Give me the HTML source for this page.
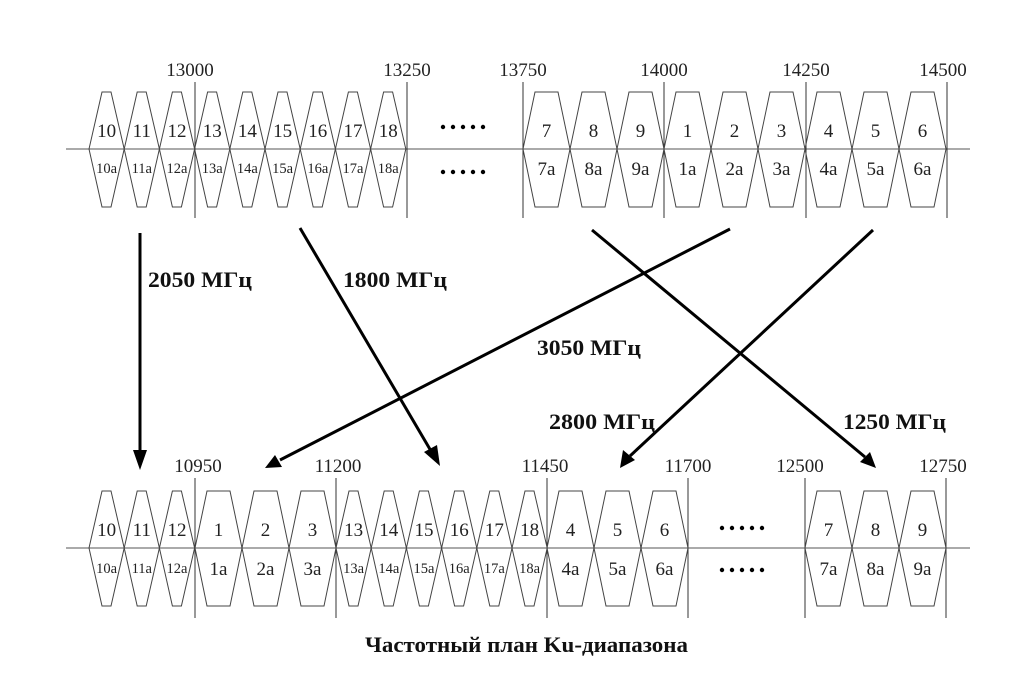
<!DOCTYPE html>
<html><head><meta charset="utf-8"><style>
html,body{margin:0;padding:0;background:#fff;}
svg{display:block;}
.n{font-family:"Liberation Serif",serif;font-size:19px;fill:#222;text-anchor:middle;}
.s{font-family:"Liberation Serif",serif;font-size:14.5px;fill:#222;text-anchor:middle;}
.f{font-family:"Liberation Serif",serif;font-size:19px;fill:#222;text-anchor:middle;}
.b{font-family:"Liberation Serif",serif;font-size:22px;font-weight:bold;fill:#111;}
</style></head><body>
<svg width="1024" height="684" viewBox="0 0 1024 684" xmlns="http://www.w3.org/2000/svg">
<defs>
<polygon id="nw" points="0,0 13,-57 22,-57 35.2,0 22,58 13,58" fill="none" stroke="#444" stroke-width="1"/>
<polygon id="wd" points="0,0 12,-57 35,-57 47,0 35,58 12,58" fill="none" stroke="#444" stroke-width="1"/>
</defs>
<g stroke="#777" stroke-width="1.3">
<line x1="66" y1="149" x2="970" y2="149"/>
<line x1="66" y1="548" x2="970" y2="548"/>
</g>
<g stroke="#333" stroke-width="1">
<line x1="195" y1="82" x2="195" y2="218"/><line x1="407" y1="82" x2="407" y2="218"/>
<line x1="523" y1="82" x2="523" y2="218"/><line x1="664" y1="82" x2="664" y2="218"/>
<line x1="806" y1="82" x2="806" y2="218"/><line x1="947" y1="82" x2="947" y2="218"/>
<line x1="195" y1="478" x2="195" y2="618"/><line x1="336" y1="478" x2="336" y2="618"/>
<line x1="547" y1="478" x2="547" y2="618"/><line x1="688" y1="478" x2="688" y2="618"/>
<line x1="805" y1="478" x2="805" y2="618"/><line x1="946" y1="478" x2="946" y2="618"/>
</g>
<text class="f" x="190" y="76">13000</text><text class="f" x="407" y="76">13250</text>
<text class="f" x="523" y="76">13750</text><text class="f" x="664" y="76">14000</text>
<text class="f" x="806" y="76">14250</text><text class="f" x="943" y="76">14500</text>
<g transform="translate(0,149)">
<use href="#nw" x="89"/><use href="#nw" x="124.2"/><use href="#nw" x="159.4"/><use href="#nw" x="194.6"/><use href="#nw" x="229.8"/><use href="#nw" x="265"/><use href="#nw" x="300.2"/><use href="#nw" x="335.4"/><use href="#nw" x="370.6"/>
<use href="#wd" x="523"/><use href="#wd" x="570"/><use href="#wd" x="617"/><use href="#wd" x="664"/><use href="#wd" x="711"/><use href="#wd" x="758"/><use href="#wd" x="805"/><use href="#wd" x="852"/><use href="#wd" x="899"/>
</g>
<g>
<text class="n" x="106.6" y="137">10</text><text class="n" x="141.8" y="137">11</text><text class="n" x="177" y="137">12</text><text class="n" x="212.2" y="137">13</text><text class="n" x="247.4" y="137">14</text><text class="n" x="282.6" y="137">15</text><text class="n" x="317.8" y="137">16</text><text class="n" x="353" y="137">17</text><text class="n" x="388.2" y="137">18</text>
<text class="s" x="106.6" y="173">10a</text><text class="s" x="141.8" y="173">11a</text><text class="s" x="177" y="173">12a</text><text class="s" x="212.2" y="173">13a</text><text class="s" x="247.4" y="173">14a</text><text class="s" x="282.6" y="173">15a</text><text class="s" x="317.8" y="173">16a</text><text class="s" x="353" y="173">17a</text><text class="s" x="388.2" y="173">18a</text>
<text class="n" x="546.5" y="137">7</text><text class="n" x="593.5" y="137">8</text><text class="n" x="640.5" y="137">9</text><text class="n" x="687.5" y="137">1</text><text class="n" x="734.5" y="137">2</text><text class="n" x="781.5" y="137">3</text><text class="n" x="828.5" y="137">4</text><text class="n" x="875.5" y="137">5</text><text class="n" x="922.5" y="137">6</text>
<text class="n" x="546.5" y="175">7a</text><text class="n" x="593.5" y="175">8a</text><text class="n" x="640.5" y="175">9a</text><text class="n" x="687.5" y="175">1a</text><text class="n" x="734.5" y="175">2a</text><text class="n" x="781.5" y="175">3a</text><text class="n" x="828.5" y="175">4a</text><text class="n" x="875.5" y="175">5a</text><text class="n" x="922.5" y="175">6a</text>
</g>
<g fill="#000">
<circle cx="443" cy="127" r="2.2"/><circle cx="453" cy="127" r="2.2"/><circle cx="463" cy="127" r="2.2"/><circle cx="473" cy="127" r="2.2"/><circle cx="483" cy="127" r="2.2"/>
<circle cx="443" cy="172" r="2.2"/><circle cx="453" cy="172" r="2.2"/><circle cx="463" cy="172" r="2.2"/><circle cx="473" cy="172" r="2.2"/><circle cx="483" cy="172" r="2.2"/>
<circle cx="722" cy="528" r="2.2"/><circle cx="732" cy="528" r="2.2"/><circle cx="742" cy="528" r="2.2"/><circle cx="752" cy="528" r="2.2"/><circle cx="762" cy="528" r="2.2"/>
<circle cx="722" cy="570" r="2.2"/><circle cx="732" cy="570" r="2.2"/><circle cx="742" cy="570" r="2.2"/><circle cx="752" cy="570" r="2.2"/><circle cx="762" cy="570" r="2.2"/>
</g>
<text class="f" x="198" y="472">10950</text><text class="f" x="338" y="472">11200</text>
<text class="f" x="545" y="472">11450</text><text class="f" x="688" y="472">11700</text>
<text class="f" x="800" y="472">12500</text><text class="f" x="943" y="472">12750</text>
<g transform="translate(0,548)">
<use href="#nw" x="89"/><use href="#nw" x="124.2"/><use href="#nw" x="159.4"/>
<use href="#wd" x="195"/><use href="#wd" x="242"/><use href="#wd" x="289"/>
<use href="#nw" x="336"/><use href="#nw" x="371.2"/><use href="#nw" x="406.4"/><use href="#nw" x="441.6"/><use href="#nw" x="476.8"/><use href="#nw" x="512"/>
<use href="#wd" x="547"/><use href="#wd" x="594"/><use href="#wd" x="641"/>
<use href="#wd" x="805"/><use href="#wd" x="852"/><use href="#wd" x="899"/>
</g>
<g>
<text class="n" x="106.6" y="536">10</text><text class="n" x="141.8" y="536">11</text><text class="n" x="177" y="536">12</text>
<text class="n" x="218.5" y="536">1</text><text class="n" x="265.5" y="536">2</text><text class="n" x="312.5" y="536">3</text>
<text class="n" x="353.6" y="536">13</text><text class="n" x="388.8" y="536">14</text><text class="n" x="424" y="536">15</text><text class="n" x="459.2" y="536">16</text><text class="n" x="494.4" y="536">17</text><text class="n" x="529.6" y="536">18</text>
<text class="n" x="570.5" y="536">4</text><text class="n" x="617.5" y="536">5</text><text class="n" x="664.5" y="536">6</text>
<text class="n" x="828.5" y="536">7</text><text class="n" x="875.5" y="536">8</text><text class="n" x="922.5" y="536">9</text>
<text class="s" x="106.6" y="573">10a</text><text class="s" x="141.8" y="573">11a</text><text class="s" x="177" y="573">12a</text>
<text class="n" x="218.5" y="575">1a</text><text class="n" x="265.5" y="575">2a</text><text class="n" x="312.5" y="575">3a</text>
<text class="s" x="353.6" y="573">13a</text><text class="s" x="388.8" y="573">14a</text><text class="s" x="424" y="573">15a</text><text class="s" x="459.2" y="573">16a</text><text class="s" x="494.4" y="573">17a</text><text class="s" x="529.6" y="573">18a</text>
<text class="n" x="570.5" y="575">4a</text><text class="n" x="617.5" y="575">5a</text><text class="n" x="664.5" y="575">6a</text>
<text class="n" x="828.5" y="575">7a</text><text class="n" x="875.5" y="575">8a</text><text class="n" x="922.5" y="575">9a</text>
</g>
<g stroke="#000" stroke-width="3" fill="none">
<line x1="140" y1="233" x2="140" y2="452"/>
<line x1="300" y1="228" x2="431" y2="451"/>
<line x1="730" y1="229" x2="280" y2="460"/>
<line x1="873" y1="230" x2="630" y2="456"/>
<line x1="592" y1="230" x2="865" y2="457"/>
</g>
<g fill="#000">
<polygon points="133,450 147,450 140,470"/>
<polygon points="424,452 437,445 440,466"/>
<polygon points="275,455 282,467 265,468"/>
<polygon points="623,450 635,460 620,468"/>
<polygon points="860,462 870,452 876,468"/>
</g>
<text class="b" x="148" y="287" textLength="104" lengthAdjust="spacingAndGlyphs">2050 МГц</text>
<text class="b" x="343" y="287" textLength="104" lengthAdjust="spacingAndGlyphs">1800 МГц</text>
<text class="b" x="537" y="355" textLength="104" lengthAdjust="spacingAndGlyphs">3050 МГц</text>
<text class="b" x="549" y="429" textLength="106" lengthAdjust="spacingAndGlyphs">2800 МГц</text>
<text class="b" x="843" y="429" textLength="103" lengthAdjust="spacingAndGlyphs">1250 МГц</text>
<text class="b" x="365" y="652" textLength="323" lengthAdjust="spacingAndGlyphs">Частотный план Ku-диапазона</text>
</svg>
</body></html>
